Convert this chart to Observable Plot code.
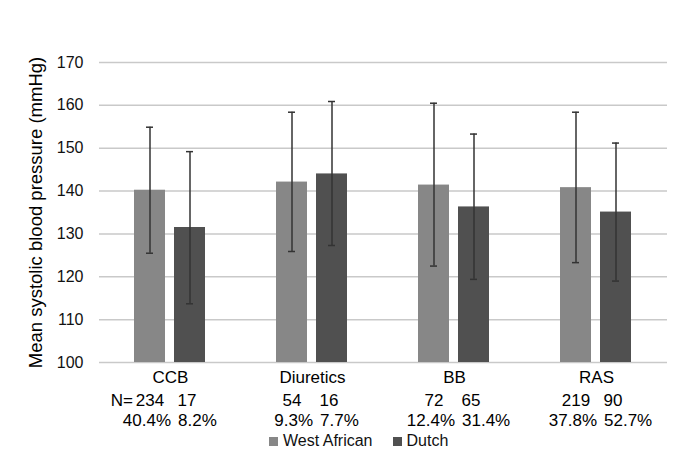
<!DOCTYPE html>
<html><head><meta charset="utf-8">
<script src="https://cdn.jsdelivr.net/npm/d3@7"></script>
<script src="https://cdn.jsdelivr.net/npm/@observablehq/plot@0.6"></script>
<style>
body{margin:0;background:#fff;font-family:"Liberation Sans",Arial,sans-serif;}
#wrap{position:relative;width:685px;height:459px;overflow:hidden;}
#legend{position:absolute;left:269px;top:432px;height:18px;line-height:18px;font-size:16px;color:#111;display:flex;align-items:center;white-space:nowrap;}
#legend .sw{display:inline-block;width:9px;height:9px;margin-right:5px;}
#legend .item{display:flex;align-items:center;margin-right:20px;}
</style></head><body>
<div id="wrap"><div id="chart"></div><div id="legend"></div></div>
<script>
const categories = ["CCB", "Diuretics", "BB", "RAS"];
const series = ["West African", "Dutch"];
const colors = ["#878787", "#505050"];
const westAfricanMean = [140.2, 142.1, 141.4, 140.8];
const westAfricanLow = [125.5, 125.9, 122.5, 123.3];
const westAfricanHigh = [154.9, 158.4, 160.5, 158.4];
const dutchMean = [131.5, 144.0, 136.3, 135.1];
const dutchLow = [113.7, 127.3, 119.4, 119.0];
const dutchHigh = [149.2, 160.9, 153.3, 151.2];
const westAfricanN = [234, 54, 72, 219];
const dutchN = [17, 16, 65, 90];
const westAfricanPct = ["40.4%", "9.3%", "12.4%", "37.8%"];
const dutchPct = ["8.2%", "7.7%", "31.4%", "52.7%"];
const yTicks = [100, 110, 120, 130, 140, 150, 160, 170];
const yTitle = "Mean systolic blood pressure (mmHg)";

const rows = [];
categories.forEach((c, i) => {
  rows.push({category: c, series: series[0], mean: westAfricanMean[i], low: westAfricanLow[i], high: westAfricanHigh[i], n: westAfricanN[i], pct: westAfricanPct[i]});
  rows.push({category: c, series: series[1], mean: dutchMean[i], low: dutchLow[i], high: dutchHigh[i], n: dutchN[i], pct: dutchPct[i]});
});
const wa = rows.filter(d => d.series === series[0]);
const du = rows.filter(d => d.series === series[1]);
const font = "Liberation Sans, Arial, sans-serif";
const fs = 17;

const plot = Plot.plot({
  width: 685, height: 436,
  marginTop: 62, marginBottom: 74, marginLeft: 98, marginRight: 17,
  style: {fontFamily: font, fontSize: "16px", color: "#111", background: "#fff"},
  fx: {domain: categories, padding: 0, axis: null},
  x: {domain: series, paddingInner: 0.2195, paddingOuter: 0.8476, axis: null},
  y: {domain: [100, 170]},
  color: {domain: series, range: colors},
  marks: [
    Plot.ruleY(yTicks, {stroke: "#c9c9c9", strokeWidth: 1.5}),
    Plot.barY(rows, {fx: "category", x: "series", y1: 100, y2: "mean", fill: "series"}),
    Plot.ruleX(rows, {fx: "category", x: "series", y1: "low", y2: "high", stroke: "#333", strokeWidth: 1.5}),
    Plot.tickY(rows, {fx: "category", x: "series", y: "low", stroke: "#333", strokeWidth: 1.5, insetLeft: 12, insetRight: 12}),
    Plot.tickY(rows, {fx: "category", x: "series", y: "high", stroke: "#333", strokeWidth: 1.5, insetLeft: 12, insetRight: 12}),
    Plot.axisY({ticks: yTicks, tickSize: 0, tickPadding: 16, label: null, fontSize: 16, fill: "#111"}),
    Plot.text([{category: categories[0]}], {fx: "category", frameAnchor: "left", text: () => yTitle, rotate: -90, textAnchor: "middle", dx: -63, fontSize: 18.5, fill: "#000"}),
    Plot.text(categories, {fx: d => d, frameAnchor: "bottom", text: d => d, dy: 20, fontSize: fs, fill: "#000"}),
    Plot.text(wa, {fx: "category", x: "series", frameAnchor: "bottom", text: d => String(d.n), dy: 43, fontSize: fs, fill: "#000"}),
    Plot.text(du, {fx: "category", x: "series", frameAnchor: "bottom", text: d => String(d.n), dy: 43, dx: -3, fontSize: fs, fill: "#000"}),
    Plot.text([wa[0]], {fx: "category", x: "series", frameAnchor: "bottom", text: () => "N=", textAnchor: "end", dy: 43, dx: -17, fontSize: fs, fill: "#000"}),
    Plot.text(wa, {fx: "category", x: "series", frameAnchor: "bottom", text: "pct", textAnchor: "end", dy: 63, dx: 21, fontSize: fs, fill: "#000"}),
    Plot.text(du, {fx: "category", x: "series", frameAnchor: "bottom", text: "pct", textAnchor: "start", dy: 63, dx: -12, fontSize: fs, fill: "#000"})
  ]
});
document.getElementById("chart").appendChild(plot);

const legend = document.getElementById("legend");
series.forEach((s, i) => {
  const item = document.createElement("span");
  item.className = "item";
  const sw = document.createElement("span");
  sw.className = "sw";
  sw.style.background = colors[i];
  item.appendChild(sw);
  item.appendChild(document.createTextNode(s));
  legend.appendChild(item);
});
</script>
</body></html>
